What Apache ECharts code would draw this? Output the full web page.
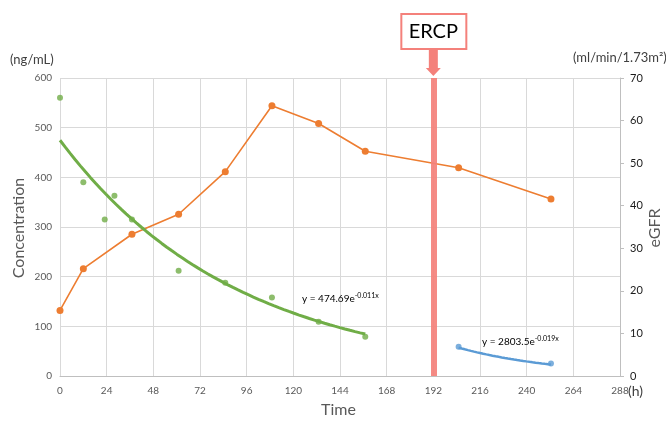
<!DOCTYPE html>
<html><head><meta charset="utf-8">
<script src="https://cdn.jsdelivr.net/npm/echarts@6/dist/echarts.min.js"></script>
<style>html,body{margin:0;padding:0;background:#fff}#c{width:666px;height:423px}</style>
</head><body><div id="c"></div>
<script>
// ---- data ----
const xTicks = [0, 24, 48, 72, 96, 120, 144, 168, 192, 216, 240, 264, 288];
const concTimes = [0, 12, 23, 28, 37, 61, 85, 109, 133, 157];
const concValues = [560, 390, 315, 363, 315, 212, 188, 158, 109, 79];
const postTimes = [205, 252.5];
const postValues = [59, 25];
const egfrTimes = [0, 12, 37, 61, 85, 109, 133, 157, 205, 252.5];
const egfrValues = [15.4, 25.2, 33.3, 38.0, 48.0, 63.5, 59.3, 52.8, 48.9, 41.6];
const ercpTime = [192];
const trendCoefA = [474.69, 2803.5];
const trendCoefB = [-0.011, -0.019];
const trendLabels = ['474.69', '2803.5'];
const trendExpLabels = ['-0.011x', '-0.019x'];

function trend(times, a, b) {
  const lo = Math.min(...times), hi = Math.max(...times), pts = [];
  const n = 60;
  for (let i = 0; i <= n; i++) { const t = lo + (hi - lo) * i / n; pts.push([t, a * Math.exp(b * t)]); }
  return pts;
}
const pair = (xs, ys) => xs.map((x, i) => [x, ys[i]]);

const FONT = 'Lato, "Liberation Sans", sans-serif';
const GREEN = '#70AD47', ORANGE = '#ED7D31', BLUE = '#5B9BD5', RED = '#F4817B', GRAY = '#595959', DARK = '#404040';

const chart = echarts.init(document.getElementById('c'), null, {renderer: 'canvas'});
const option = {
  animation: false,
  textStyle: {fontFamily: FONT},
  grid: {left: 60, right: 46, top: 78, bottom: 47},
  xAxis: {
    type: 'value', min: 0, max: 288, interval: 24,
    axisLine: {show: true, lineStyle: {color: '#BFBFBF', width: 1}},
    axisTick: {show: false},
    axisLabel: {color: GRAY, fontSize: 10, margin: 10, fontFamily: FONT,
      formatter: v => xTicks.includes(v) ? String(v) : ''},
    splitLine: {show: true, lineStyle: {color: '#D9D9D9', width: 1}}
  },
  yAxis: [{
    type: 'value', min: 0, max: 600, interval: 100,
    axisLine: {show: false}, axisTick: {show: false},
    axisLabel: {color: GRAY, fontSize: 10, margin: 8, fontFamily: FONT},
    splitLine: {show: true, lineStyle: {color: '#D9D9D9', width: 1}}
  }, {
    type: 'value', min: 0, max: 70, interval: 10, position: 'right',
    axisLine: {show: true, lineStyle: {color: '#BFBFBF', width: 1}},
    axisTick: {show: true, length: 4, lineStyle: {color: '#BFBFBF'}},
    axisLabel: {color: '#1a1a1a', fontSize: 11, margin: 10, fontFamily: FONT},
    splitLine: {show: false}
  }],
  series: [
    {type: 'line', yAxisIndex: 1, data: pair(egfrTimes, egfrValues), color: ORANGE,
     lineStyle: {width: 1.6, color: ORANGE}, symbol: 'circle', symbolSize: 7,
     itemStyle: {color: ORANGE}, z: 3,
     markLine: {silent: true, symbol: 'none', label: {show: false},
       lineStyle: {color: RED, width: 6, type: 'solid', opacity: 0.92},
       data: ercpTime.map(t => ({xAxis: t})), z: 10}},
    {type: 'line', data: trend(concTimes, trendCoefA[0], trendCoefB[0]), showSymbol: false,
     lineStyle: {width: 3, color: GREEN}, smooth: false, z: 4},
    {type: 'scatter', data: pair(concTimes, concValues), symbolSize: 6,
     itemStyle: {color: GREEN}, z: 5},
    {type: 'line', data: trend(postTimes, trendCoefA[1], trendCoefB[1]), showSymbol: false,
     lineStyle: {width: 2.5, color: BLUE}, z: 4},
    {type: 'scatter', data: pair(postTimes, postValues), symbolSize: 6,
     itemStyle: {color: BLUE}, z: 5}
  ]
};
chart.setOption(option);

const ex = chart.convertToPixel({xAxisIndex: 0, yAxisIndex: 0}, [ercpTime[0], 600])[0];
const eq = (i) => ({
  rich: {
    b: {fontSize: 10, fill: '#000', fontFamily: FONT},
    s: {fontSize: 7, fill: '#000', fontFamily: FONT, padding: [0, 0, 7, 0]}
  },
  text: '{b|y = ' + trendLabels[i] + 'e}{s|' + trendExpLabels[i] + '}'
});
chart.setOption({
  graphic: [
    {type: 'text', left: 10, top: 53, style: {text: '(ng/mL)', fontSize: 13, fill: DARK, fontFamily: FONT}},
    {type: 'text', left: 573, top: 51, style: {text: '(ml/min/1.73m²)', fontSize: 13, fill: DARK, fontFamily: FONT}},
    {type: 'text', left: 628, top: 384, style: {text: '(h)', fontSize: 14, fill: DARK, fontFamily: FONT}},
    {type: 'text', left: 321, top: 402, style: {text: 'Time', fontSize: 16, fill: GRAY, fontFamily: FONT}},
    {type: 'text', x: 19, y: 228, rotation: Math.PI / 2,
     style: {text: 'Concentration', fontSize: 16, fill: GRAY, fontFamily: FONT, align: 'center', verticalAlign: 'middle'}},
    {type: 'text', x: 655, y: 228, rotation: Math.PI / 2,
     style: {text: 'eGFR', fontSize: 16, fill: GRAY, fontFamily: FONT, align: 'center', verticalAlign: 'middle'}},
    {type: 'text', x: 302, y: 292, style: eq(0)},
    {type: 'text', x: 482, y: 335, style: eq(1)},
    {type: 'rect', shape: {x: ex - 32, y: 14, width: 65, height: 35},
     style: {fill: '#fff', stroke: RED, lineWidth: 2}},
    {type: 'text', x: ex, y: 31.5, style: {text: 'ERCP', fontSize: 20, fill: '#000', fontFamily: FONT, align: 'center', verticalAlign: 'middle'}},
    {type: 'polygon', shape: {points: [[ex - 4.5, 49], [ex + 4.5, 49], [ex + 4.5, 68], [ex + 7.5, 68], [ex, 76], [ex - 7.5, 68], [ex - 4.5, 68]]},
     style: {fill: RED}}
  ]
});
</script></body></html>
